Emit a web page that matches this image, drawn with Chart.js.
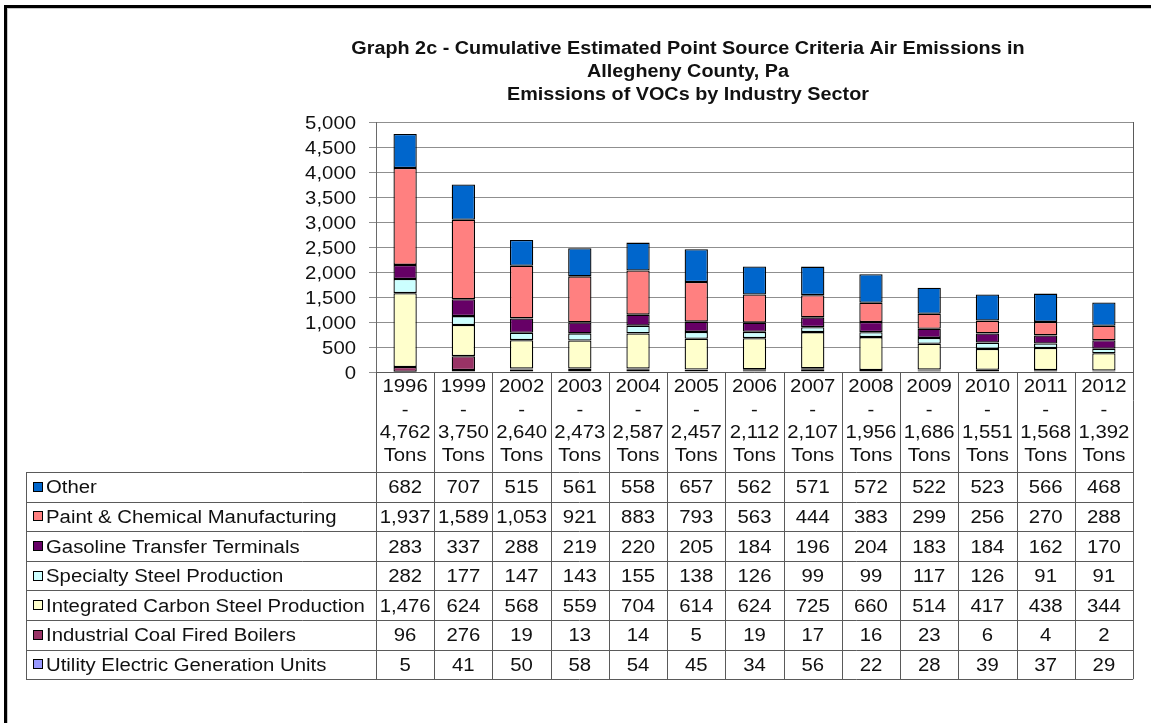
<!DOCTYPE html>
<html>
<head>
<meta charset="utf-8">
<script src="https://cdn.jsdelivr.net/npm/chart.js@4"></script>
<style>
  html, body { margin: 0; padding: 0; background: #ffffff; }
  #wrap { width: 1151px; height: 723px; position: relative; }
</style>
</head>
<body>
<div id="wrap"><canvas id="c" width="1151" height="723"></canvas></div>
<script>
// ---- data ----
const years = ['1996','1999','2002','2003','2004','2005','2006','2007','2008','2009','2010','2011','2012'];
const totalLabels = ['4,762','3,750','2,640','2,473','2,587','2,457','2,112','2,107','1,956','1,686','1,551','1,568','1,392'];
const titleLines = [
  'Graph 2c - Cumulative Estimated Point Source Criteria Air Emissions in',
  'Allegheny County, Pa',
  'Emissions of VOCs by Industry Sector'
];
const other      = [682, 707, 515, 561, 558, 657, 562, 571, 572, 522, 523, 566, 468];
const paint      = [1937, 1589, 1053, 921, 883, 793, 563, 444, 383, 299, 256, 270, 288];
const gasoline   = [283, 337, 288, 219, 220, 205, 184, 196, 204, 183, 184, 162, 170];
const specialty  = [282, 177, 147, 143, 155, 138, 126, 99, 99, 117, 126, 91, 91];
const integrated = [1476, 624, 568, 559, 704, 614, 624, 725, 660, 514, 417, 438, 344];
const coal       = [96, 276, 19, 13, 14, 5, 19, 17, 16, 23, 6, 4, 2];
const utility    = [5, 41, 50, 58, 54, 45, 34, 56, 22, 28, 39, 37, 29];
const yMax = 5000;
const yStep = 500;

// ---- styling ----
const FONT = '"Liberation Sans", Arial, sans-serif';
const SX = 1.13;            // horizontal stretch of text as in the reference
const TEXT = '#111111';
const LINE = '#5a5a5a';

function txt(ctx, s, x, y, align, font, sx) {
  ctx.save();
  ctx.font = font;
  ctx.fillStyle = TEXT;
  ctx.textAlign = align;
  ctx.textBaseline = 'alphabetic';
  ctx.translate(x, y);
  ctx.scale(sx, 1);
  ctx.fillText(s, 0, 0);
  ctx.restore();
}
function hline(ctx, x1, x2, y, color, w) {
  ctx.save(); ctx.strokeStyle = color; ctx.lineWidth = w || 1;
  ctx.beginPath(); ctx.moveTo(x1, Math.round(y) + 0.5); ctx.lineTo(x2, Math.round(y) + 0.5); ctx.stroke(); ctx.restore();
}
function vline(ctx, x, y1, y2, color, w) {
  ctx.save(); ctx.strokeStyle = color; ctx.lineWidth = w || 1;
  ctx.beginPath(); ctx.moveTo(Math.round(x) + 0.5, y1); ctx.lineTo(Math.round(x) + 0.5, y2); ctx.stroke(); ctx.restore();
}

const decor = {
  id: 'decor',
  beforeDraw(chart) {
    const ctx = chart.ctx;
    ctx.save();
    ctx.fillStyle = '#ffffff';
    ctx.fillRect(0, 0, chart.width, chart.height);
    // outer frame (top + left)
    ctx.fillStyle = '#000000';
    ctx.fillRect(4, 5, chart.width - 4, 3);
    ctx.fillRect(4, 5, 3, chart.height - 5);
    ctx.fillStyle = '#c8c8c8';
    ctx.fillRect(7, 8, chart.width - 7, 1);
    ctx.fillRect(7, 8, 1, chart.height - 8);
    ctx.restore();
  },
  afterDraw(chart) {
    const ctx = chart.ctx;
    const area = chart.chartArea;
    const xs = chart.scales.x;
    const ys = chart.scales.y;
    const font18 = '18px ' + FONT;

    // title
    const tcx = 688;
    titleLines.forEach((l, i) => txt(ctx, l, tcx, 54 + i * 23, 'center', 'bold 18px ' + FONT, 1.1));

    // y tick labels
    ys.ticks.forEach(t => {
      const py = ys.getPixelForValue(t.value);
      txt(ctx, t.value.toLocaleString('en-US'), 356, py + 6.5, 'right', font18, SX);
    });

    const colW = xs.getPixelForValue(1) - xs.getPixelForValue(0);
    const tableTop = 472;
    const rowH = 29.6;
    const ds = chart.data.datasets;
    const nRows = ds.length;
    const tableBottom = tableTop + rowH * nRows;
    const legendLeft = 26;

    // plot right border and axis line
    vline(ctx, area.right, area.top, tableBottom, LINE);
    hline(ctx, area.left, area.right, area.bottom, LINE);

    // category label cells
    years.forEach((yr, i) => {
      const cx = xs.getPixelForValue(i);
      txt(ctx, yr, cx, 392, 'center', font18, SX);
      txt(ctx, '-', cx, 416, 'center', font18, SX);
      txt(ctx, totalLabels[i], cx, 438, 'center', font18, SX);
      txt(ctx, 'Tons', cx, 461, 'center', font18, SX);
    });
    // column separators
    for (let i = 0; i < years.length; i++) {
      const bx = xs.getPixelForValue(i) - colW / 2;
      vline(ctx, bx, area.bottom, tableBottom, LINE);
    }
    // table rows
    for (let r = 0; r <= nRows; r++) {
      hline(ctx, legendLeft, area.right, tableTop + r * rowH, LINE);
    }
    vline(ctx, legendLeft, tableTop, tableBottom, LINE);

    // rows: top-most dataset first
    for (let r = 0; r < nRows; r++) {
      const d = ds[nRows - 1 - r];
      const cy = tableTop + r * rowH + rowH / 2;
      ctx.save();
      ctx.fillStyle = d.backgroundColor;
      ctx.fillRect(33, Math.round(cy - 5), 10, 10);
      ctx.strokeStyle = '#000';
      ctx.lineWidth = 1;
      ctx.strokeRect(33.5, Math.round(cy - 5) + 0.5, 9, 9);
      ctx.restore();
      txt(ctx, d.label, 46, cy + 6.5, 'left', font18, SX);
      d.data.forEach((v, i) => {
        txt(ctx, v.toLocaleString('en-US'), xs.getPixelForValue(i), cy + 6.5, 'center', font18, SX);
      });
    }
  }
};

const mk = (label, data, color) => ({
  label, data, backgroundColor: color, borderColor: '#000000', borderWidth: 1.3,
  borderSkipped: false, barPercentage: 0.4, categoryPercentage: 1.0
});

new Chart(document.getElementById('c'), {
  type: 'bar',
  data: {
    labels: years,
    datasets: [
      mk('Utility Electric Generation Units', utility, '#9999FF'),
      mk('Industrial Coal Fired Boilers', coal, '#993366'),
      mk('Integrated Carbon Steel Production', integrated, '#FFFFCC'),
      mk('Specialty Steel Production', specialty, '#CCFFFF'),
      mk('Gasoline Transfer Terminals', gasoline, '#660066'),
      mk('Paint & Chemical Manufacturing', paint, '#FF8080'),
      mk('Other', other, '#0066CC')
    ]
  },
  options: {
    responsive: false,
    animation: false,
    layout: { padding: { left: 300, right: 18, top: 122, bottom: 350 } },
    plugins: { legend: { display: false }, title: { display: false }, tooltip: { enabled: false } },
    scales: {
      x: {
        stacked: true,
        grid: { display: false },
        border: { display: false },
        ticks: { display: false },
        afterFit(s) { s.height = 1; }
      },
      y: {
        stacked: true,
        min: 0, max: yMax,
        ticks: { display: false, stepSize: yStep },
        grid: { color: '#8f8f8f', lineWidth: 1, drawTicks: true, tickLength: 7 },
        border: { display: true, color: '#6a6a6a', width: 1 },
        afterFit(s) { s.width = 76; }
      }
    }
  },
  plugins: [decor]
});
</script>
</body>
</html>
